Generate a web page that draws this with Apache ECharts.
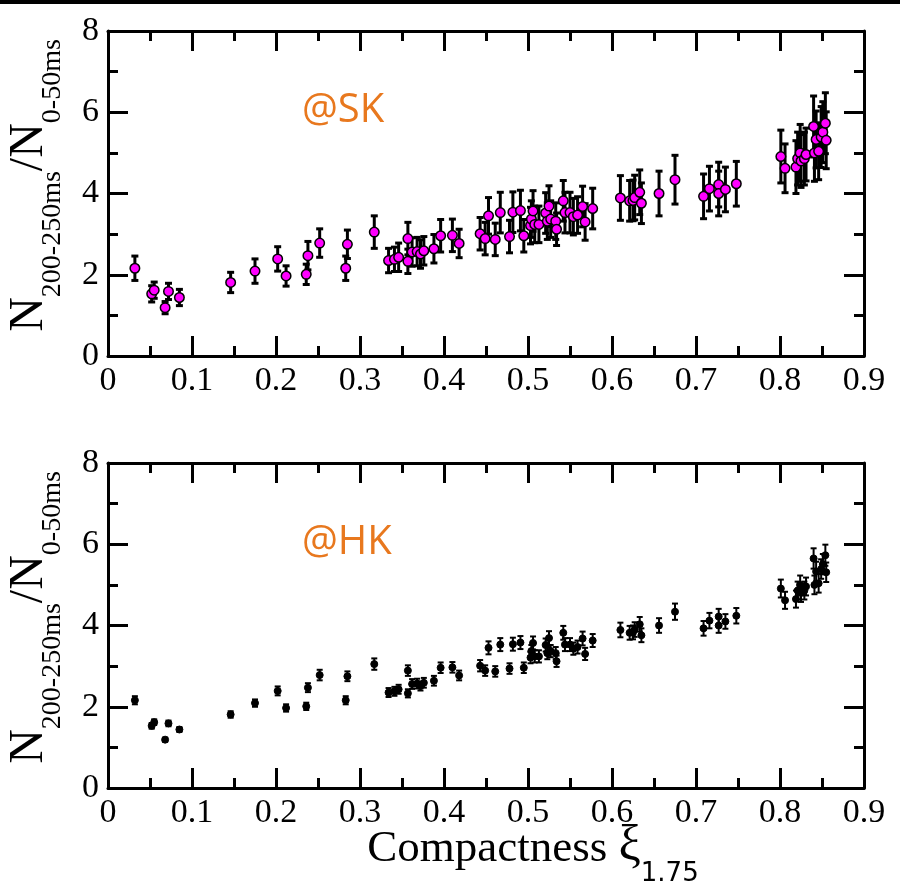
<!DOCTYPE html>
<html>
<head>
<meta charset="utf-8">
<script src="https://cdn.jsdelivr.net/npm/echarts@6/dist/echarts.min.js"></script>
<style>
  html, body { margin: 0; padding: 0; background: #fff; }
  #chart { width: 900px; height: 889px; }
</style>
</head>
<body>
<div id="chart"></div>
<script>
// Compactness of each progenitor model
const compactness = [
  0.032, 0.052, 0.055, 0.068, 0.072, 0.085, 0.146, 0.175, 0.202, 0.212,
  0.236, 0.238, 0.252, 0.283, 0.285, 0.317, 0.334, 0.341, 0.346, 0.357,
  0.357, 0.362, 0.368, 0.372, 0.376, 0.388, 0.396, 0.410, 0.418, 0.443,
  0.449, 0.453, 0.461, 0.467, 0.478, 0.482, 0.491, 0.495, 0.503, 0.504,
  0.506, 0.508, 0.513, 0.521, 0.523, 0.525, 0.527, 0.533, 0.534, 0.542,
  0.544, 0.550, 0.554, 0.559, 0.565, 0.568, 0.577, 0.610, 0.621, 0.625,
  0.627, 0.633, 0.635, 0.656, 0.675, 0.709, 0.716, 0.727, 0.727, 0.735,
  0.748, 0.801, 0.806, 0.819, 0.821, 0.824, 0.825, 0.829, 0.831, 0.840,
  0.841, 0.843, 0.846, 0.849, 0.851, 0.854, 0.855
];

// Event-count ratio N(200-250 ms) / N(0-50 ms)
const ratio = [
  2.16, 1.53, 1.62, 1.19, 1.59, 1.44, 1.81, 2.09, 2.39, 1.97,
  2.01, 2.47, 2.78, 2.16, 2.75, 3.05, 2.35, 2.38, 2.43, 2.33,
  2.89, 2.56, 2.57, 2.51, 2.59, 2.64, 2.96, 2.97, 2.77, 3.01,
  2.89, 3.45, 2.87, 3.53, 2.94, 3.54, 3.58, 2.96, 3.21, 3.37,
  3.57, 3.24, 3.24, 3.52, 3.32, 3.69, 3.37, 3.32, 3.12, 3.82,
  3.53, 3.53, 3.43, 3.47, 3.68, 3.30, 3.63, 3.89, 3.82, 3.83,
  3.90, 4.03, 3.76, 4.00, 4.34, 3.93, 4.12, 4.22, 4.00, 4.10,
  4.24, 4.91, 4.62, 4.65, 4.86, 5.00, 4.80, 4.86, 4.96, 5.65,
  5.00, 5.33, 5.04, 5.39, 5.51, 5.73, 5.31
];

// Statistical uncertainty for Super-Kamiokande
const errSK = [
  0.30, 0.20, 0.20, 0.15, 0.20, 0.20, 0.25, 0.30, 0.30, 0.25,
  0.25, 0.35, 0.35, 0.30, 0.35, 0.40, 0.30, 0.30, 0.35, 0.30,
  0.40, 0.35, 0.35, 0.35, 0.35, 0.35, 0.40, 0.40, 0.35, 0.40,
  0.40, 0.45, 0.40, 0.50, 0.40, 0.50, 0.50, 0.40, 0.45, 0.45,
  0.50, 0.45, 0.45, 0.50, 0.45, 0.50, 0.45, 0.45, 0.40, 0.50,
  0.50, 0.50, 0.45, 0.45, 0.50, 0.45, 0.50, 0.55, 0.50, 0.50,
  0.55, 0.55, 0.50, 0.55, 0.60, 0.55, 0.55, 0.55, 0.55, 0.55,
  0.55, 0.65, 0.60, 0.65, 0.65, 0.70, 0.65, 0.65, 0.65, 0.75,
  0.70, 0.70, 0.70, 0.75, 0.75, 0.75, 0.70
];

// Statistical uncertainty for Hyper-Kamiokande
const errHK = [
  0.10, 0.07, 0.07, 0.05, 0.07, 0.06, 0.08, 0.09, 0.11, 0.09,
  0.09, 0.11, 0.13, 0.10, 0.12, 0.14, 0.11, 0.11, 0.11, 0.10,
  0.13, 0.12, 0.12, 0.11, 0.12, 0.12, 0.13, 0.13, 0.12, 0.14,
  0.13, 0.16, 0.13, 0.16, 0.13, 0.16, 0.16, 0.13, 0.14, 0.15,
  0.16, 0.15, 0.15, 0.16, 0.15, 0.17, 0.15, 0.15, 0.14, 0.17,
  0.16, 0.16, 0.15, 0.16, 0.17, 0.15, 0.16, 0.18, 0.17, 0.17,
  0.18, 0.18, 0.17, 0.18, 0.20, 0.18, 0.19, 0.19, 0.18, 0.18,
  0.19, 0.22, 0.21, 0.21, 0.22, 0.23, 0.22, 0.22, 0.22, 0.25,
  0.23, 0.24, 0.23, 0.24, 0.25, 0.26, 0.24
];

const xTickLabels = ['0', '0.1', '0.2', '0.3', '0.4', '0.5', '0.6', '0.7', '0.8', '0.9'];
const yTickLabels = ['0', '2', '4', '6', '8'];
const panelNames = ['@SK', '@HK'];

const SERIF = '"Liberation Serif", "Times New Roman", serif';
const SANS = '"DejaVu Sans", sans-serif';
const ORANGE = '#E8781E';

const chart = echarts.init(document.getElementById('chart'), null, { renderer: 'canvas' });

const plotLeft = 108, plotWidth = 756, plotHeight = 325;
const panelTops = [31, 463];

// text measurement for laying out titles with subscripts
const measureCtx = document.createElement('canvas').getContext('2d');
function textWidth(str, size, family) {
  measureCtx.font = size + 'px ' + family;
  return measureCtx.measureText(str).width;
}

// Builds a group of text pieces sharing one baseline; pieces with dy are lowered.
function subscriptTitle(parts, cx, baselineY, rotation) {
  let total = 0;
  parts.forEach(p => { p.w = textWidth(p.text, p.size, p.family); total += p.w; });
  let x = -total / 2;
  const children = parts.map(p => {
    const el = {
      type: 'text',
      x: x,
      y: (p.dy || 0) - 0.34 * p.size,
      style: {
        text: p.text,
        font: p.size + 'px ' + p.family,
        fill: '#000',
        align: 'left',
        verticalAlign: 'middle'
      }
    };
    x += p.w;
    return el;
  });
  return { type: 'group', x: cx, y: baselineY, rotation: rotation || 0, children: children };
}

function xAxisPair(gridIndex) {
  const common = {
    gridIndex: gridIndex,
    type: 'value',
    min: 0,
    max: 0.9,
    interval: 0.1,
    axisLine: { onZero: false, lineStyle: { color: '#000', width: 3 } },
    axisTick: { inside: true, length: 20, lineStyle: { color: '#000', width: 3 } },
    minorTick: { show: true, splitNumber: 2, length: 10, lineStyle: { color: '#000', width: 3 } },
    splitLine: { show: false }
  };
  return [
    Object.assign({}, common, {
      position: 'bottom',
      axisLabel: {
        show: true,
        margin: 8,
        fontFamily: SERIF,
        fontSize: 34,
        color: '#000',
        formatter: v => xTickLabels[Math.round(v * 10)]
      }
    }),
    Object.assign({}, common, { position: 'top', axisLabel: { show: false } })
  ];
}

function yAxisPair(gridIndex) {
  const common = {
    gridIndex: gridIndex,
    type: 'value',
    min: 0,
    max: 8,
    interval: 2,
    axisLine: { onZero: false, lineStyle: { color: '#000', width: 3 } },
    axisTick: { inside: true, length: 20, lineStyle: { color: '#000', width: 3 } },
    minorTick: { show: true, splitNumber: 2, length: 10, lineStyle: { color: '#000', width: 3 } },
    splitLine: { show: false }
  };
  return [
    Object.assign({}, common, {
      position: 'left',
      axisLabel: {
        show: true,
        margin: 9,
        fontFamily: SERIF,
        fontSize: 34,
        color: '#000',
        formatter: v => yTickLabels[Math.round(v / 2)]
      }
    }),
    Object.assign({}, common, { position: 'right', axisLabel: { show: false } })
  ];
}

function errorBarSeries(axisIndex, errs, lineWidth, capHalf) {
  return {
    type: 'custom',
    xAxisIndex: axisIndex,
    yAxisIndex: axisIndex,
    z: 2,
    silent: true,
    data: compactness.map((x, i) => [x, ratio[i], errs[i]]),
    renderItem: function (params, api) {
      const x = api.value(0), y = api.value(1), e = api.value(2);
      const lo = api.coord([x, y - e]);
      const hi = api.coord([x, y + e]);
      const style = { stroke: '#000', lineWidth: lineWidth };
      return {
        type: 'group',
        children: [
          { type: 'line', shape: { x1: lo[0], y1: lo[1], x2: hi[0], y2: hi[1] }, style: style },
          { type: 'line', shape: { x1: lo[0] - capHalf, y1: lo[1], x2: lo[0] + capHalf, y2: lo[1] }, style: style },
          { type: 'line', shape: { x1: hi[0] - capHalf, y1: hi[1], x2: hi[0] + capHalf, y2: hi[1] }, style: style }
        ]
      };
    }
  };
}

const points = compactness.map((x, i) => [x, ratio[i]]);

const graphics = [
  { type: 'rect', shape: { x: 0, y: 0, width: 900, height: 4 }, style: { fill: '#000' } }
];

panelTops.forEach((top, k) => {
  const mid = top + plotHeight / 2 - 8;
  graphics.push(subscriptTitle([
    { text: 'N', size: 48, family: SERIF },
    { text: '200-250ms', size: 28, family: SERIF, dy: 16 },
    { text: '/N', size: 48, family: SERIF },
    { text: '0-50ms', size: 28, family: SERIF, dy: 16 }
  ], 46, mid, Math.PI / 2));
  graphics.push({
    type: 'text',
    x: 302,
    y: top + 93 - 0.34 * 40,
    style: { text: panelNames[k], font: '40px "Open Sans", sans-serif', fill: ORANGE, verticalAlign: 'middle' }
  });
});

graphics.push(subscriptTitle([
  { text: 'Compactness ', size: 45, family: SERIF },
  { text: 'ξ', size: 50, family: SERIF },
  { text: '1.75', size: 26, family: SANS, dy: 19 }
], 533, 864, 0));

const option = {
  animation: false,
  backgroundColor: '#fff',
  grid: panelTops.map(t => ({ left: plotLeft, top: t, width: plotWidth, height: plotHeight, containLabel: false })),
  xAxis: xAxisPair(0).concat(xAxisPair(1)),
  yAxis: yAxisPair(0).concat(yAxisPair(1)),
  series: [
    errorBarSeries(0, errSK, 3, 3.5),
    {
      type: 'scatter',
      xAxisIndex: 0,
      yAxisIndex: 0,
      z: 3,
      symbol: 'circle',
      symbolSize: 9.5,
      itemStyle: { color: '#FF00FF', borderColor: '#000', borderWidth: 1.5, opacity: 1 },
      data: points
    },
    errorBarSeries(2, errHK, 2, 3),
    {
      type: 'scatter',
      xAxisIndex: 2,
      yAxisIndex: 2,
      z: 3,
      symbol: 'circle',
      symbolSize: 7,
      itemStyle: { color: '#000', borderColor: '#000', borderWidth: 1, opacity: 1 },
      data: points
    }
  ],
  graphic: graphics
};

chart.setOption(option);
</script>
</body>
</html>
